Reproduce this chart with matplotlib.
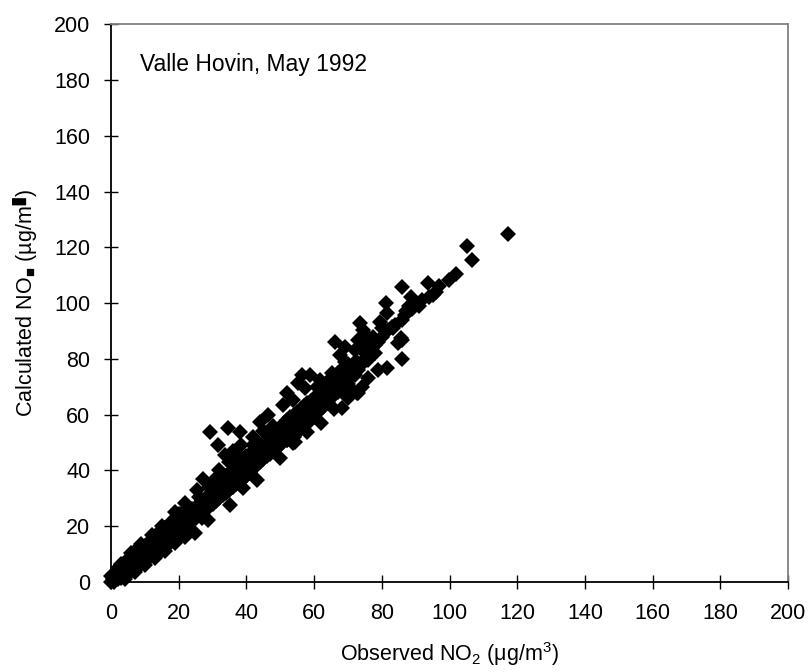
import matplotlib
matplotlib.use("Agg")
import matplotlib.pyplot as plt

plt.rcParams['font.family'] = ['Liberation Sans', 'DejaVu Sans']
plt.rcParams['mathtext.fontset'] = 'custom'
plt.rcParams['mathtext.rm'] = 'Liberation Sans'
plt.rcParams['mathtext.it'] = 'Liberation Sans'
plt.rcParams['mathtext.bf'] = 'Liberation Sans'

# Observed NO2 (x) and calculated NO2 (y), ug/m3
obs_a = [0, 0.5, 1, 1, 1.5, 2, 2, 2.5, 3, 3, 3.5, 4, 4, 4.5, 5, 5, 5.5, 6, 6, 6.5, 7, 7, 7.5, 8, 8, 8.5, 9, 9, 9.5, 10, 10,
         0, 1, 2, 3, 4, 5, 6, 7, 8, 9, 10, 1, 2, 3, 4, 5, 6, 7, 8, 9,
         4, 7, 10, 3, 6, 9]
calc_a = [0, 1, 2, 0.5, 3, 2, 4, 3, 3, 5, 4, 4, 6, 5, 5, 7, 6, 6, 8, 7, 7, 9, 8, 8, 10, 9, 9, 11, 10, 10, 12,
          2, 3, 5, 6, 7, 8, 9, 11, 11, 12, 13, 0, 1, 1.5, 2, 3, 4, 4.5, 5.5, 6.5,
          1, 3.5, 6, 6.5, 10.5, 13.5]

obs_b = [10.5, 11, 11, 11.5, 12, 12, 12.5, 13, 13, 13.5, 14, 14, 14.5, 15, 15, 15.5, 16, 16, 16.5, 17, 17, 17.5, 18, 18,
         18.5, 19, 19, 19.5, 20, 20, 12, 14, 16, 18, 20, 13, 15, 17, 19, 21,
         13, 16, 19, 12, 15, 19]
calc_b = [8, 9, 12, 10.5, 10, 13, 11, 11, 14, 12.5, 12, 15, 13, 13, 16, 14.5, 14, 17, 16, 15, 19, 17, 16, 20,
          18, 17, 21, 19, 18, 22, 15.5, 17.5, 19.5, 22, 24.5, 9.5, 11.5, 13.5, 15.5, 17,
          8.5, 11, 14, 17, 20, 25]

obs_c = [20.5, 21, 21, 21.5, 22, 22, 22.5, 23, 23, 23.5, 24, 24, 24.5, 25, 25, 25.5, 26, 26, 26.5, 27, 27, 27.5, 28, 28,
         28.5, 29, 29, 29.5, 30, 30, 21.9, 24.8, 28.7, 27.3, 25.3, 22.5, 26, 29, 23, 27, 22]
calc_c = [20, 19, 23, 21, 20, 24, 22, 21, 25, 23, 22, 26, 24, 23, 27, 25, 24, 28, 26, 25, 29, 27, 26, 30,
          28, 27, 31, 29, 28, 32, 28.2, 17.5, 22.2, 36.8, 33, 26.5, 30.5, 34, 18.5, 23, 16]

obs_d = [30.5, 31, 31, 31.5, 32, 32, 32.5, 33, 33, 33.5, 34, 34, 34.5, 35, 35, 35.5, 36, 36, 36.5, 37, 37, 37.5, 38, 38,
         38.5, 39, 39, 39.5, 40, 40, 35.2, 39.1, 43, 31.7, 29.2, 34.7, 38.1, 33.7, 36, 38.5, 41.9, 35, 32, 30.5, 37]
calc_d = [30, 29, 33, 31, 30, 35, 33, 31, 37, 34, 32, 38, 35, 33, 39, 36, 34, 40, 37, 35, 42, 39, 36, 43,
          40, 37, 44, 41, 38, 45, 27.6, 33.6, 36.6, 49.1, 53.9, 55.1, 53.9, 45.5, 47, 49, 49.1, 43, 40, 36.5, 45.5]

obs_e = [40.5, 41, 41, 41.5, 42, 42, 42.5, 43, 43, 43.5, 44, 44, 44.5, 45, 45, 45.5, 46, 46, 46.5, 47, 47, 47.5, 48, 48,
         48.5, 49, 49, 49.5, 50, 50, 44, 46.5, 49.9, 47, 42, 45, 48, 50]
calc_e = [40, 39, 46, 43, 41, 47, 44, 42, 48, 45, 43, 49, 46, 44, 50, 47, 45, 51, 48, 46, 52, 49, 47, 53,
          50, 48, 54, 51, 49, 55, 57.5, 59.9, 44.3, 49.8, 52, 54, 56, 52]

obs_f = [50.5, 51, 51, 51.5, 52, 52, 52.5, 53, 53, 53.5, 54, 54, 54.5, 55, 55, 55.5, 56, 56, 56.5, 57, 57, 57.5, 58, 58,
         58.5, 59, 59, 59.5, 60, 60, 53.9, 54.4, 57.8, 51.9, 53.9, 51.9, 50.9, 55.3, 60.8, 57.3, 56.3, 58.8, 59.8, 55.8,
         52.9, 54.9]
calc_f = [50, 52, 57, 54, 51, 58, 55, 53, 59, 56, 52, 60, 57, 54, 61, 58, 55, 62, 59, 56, 63, 60, 57, 64,
          61, 58, 65, 62, 59, 66, 49.7, 50.3, 53.9, 50.9, 65.2, 67.6, 63.4, 71.2, 70, 69.4, 74.2, 74.2, 59.2, 59.2,
          54.5, 54.5]

obs_g = [60.5, 61, 61, 61.5, 62, 62, 62.5, 63, 63, 63.5, 64, 64, 64.5, 65, 65, 65.5, 66, 66, 66.5, 67, 67, 67.5, 68, 68,
         68.5, 69, 69, 70, 70, 61.7, 62.7, 64.7, 63.7, 65.2, 68.2, 66.2, 69.1, 67.7, 70.6, 71.1, 72.6, 73.1,
         62, 66, 70, 64, 69]
calc_g = [63, 61, 67, 64, 62, 68, 65, 63, 69, 66, 64, 70, 67, 66, 71, 68, 67, 73, 70, 68, 75, 71, 69, 76,
          72, 70, 77, 71, 78, 72.4, 65.2, 66.4, 68.8, 74.8, 62.3, 86.1, 84.3, 81.4, 76, 68.8, 67.9, 67.6,
          57, 62, 66, 72, 79]

obs_h = [71, 72, 72.6, 73, 73.6, 74.5, 73.1, 74.1, 72.1, 74, 75, 76, 76, 77.5, 78, 78, 79.5, 80, 81.2, 81.4, 81.9, 82.9,
         83.4, 81.4, 84.9, 85.6, 85.9, 85.9, 86.9, 85.9, 85.9, 88.5, 89, 90, 77, 79, 80, 84, 87, 88, 75, 76,
         74, 76, 79, 72]
calc_h = [74, 79, 79, 76, 92.7, 90.3, 86.7, 83.2, 74.2, 78, 80, 79.6, 82, 87.9, 82, 85, 93.3, 88, 100.1, 96.3, 90.3, 91.5,
          90.9, 76.6, 85.6, 87.3, 86.7, 79.8, 95.9, 93.9, 105.8, 102.3, 98, 100, 84, 86, 91, 92, 97, 99, 84, 88,
          70, 73, 76, 83]

obs_i = [91.1, 93.7, 94, 96, 99.9, 101.9, 105.3, 106.6, 117.2, 92, 95, 97]
calc_i = [98.9, 107.3, 102, 104, 108.2, 110.4, 120.5, 115.3, 124.7, 101, 103, 106]

observed = obs_a + obs_b + obs_c + obs_d + obs_e + obs_f + obs_g + obs_h + obs_i
calculated = calc_a + calc_b + calc_c + calc_d + calc_e + calc_f + calc_g + calc_h + calc_i

ticks = [0, 20, 40, 60, 80, 100, 120, 140, 160, 180, 200]

fig = plt.figure(figsize=(8.1, 6.72), dpi=100)
ax = fig.add_axes([0.137, 0.134, 0.836, 0.830])

ax.plot(observed, calculated, linestyle='none', marker='D', markersize=8.3,
        color='black', markeredgewidth=0, clip_on=False, zorder=3)

ax.set_xlim(0, 200)
ax.set_ylim(0, 200)
ax.set_xticks(ticks)
ax.set_yticks(ticks)
ax.set_xticklabels([str(t) for t in ticks])
ax.set_yticklabels([str(t) for t in ticks])

for side in ['left', 'bottom']:
    ax.spines[side].set_color('black')
    ax.spines[side].set_linewidth(1.3)
for side in ['top', 'right']:
    ax.spines[side].set_color('#808080')
    ax.spines[side].set_linewidth(1.3)

ax.tick_params(axis='both', direction='inout', length=10, width=1.0, colors='black',
               labelsize=15.5)
ax.tick_params(axis='x', pad=10)
ax.tick_params(axis='y', pad=10)

ax.set_xlabel(r'Observed NO$_2$ ($\mu$g/m$^3$)', fontsize=15.5, labelpad=12)
ax.set_ylabel('Calculated NO$_{\u25a0}$ (\u00b5g/m$^{\u25ae}$)', fontsize=15.5, labelpad=10)

ax.text(8.6, 185.7, 'Valle Hovin, May 1992', fontsize=16.5, ha='left', va='center')

fig.savefig('out.png', dpi=100)
